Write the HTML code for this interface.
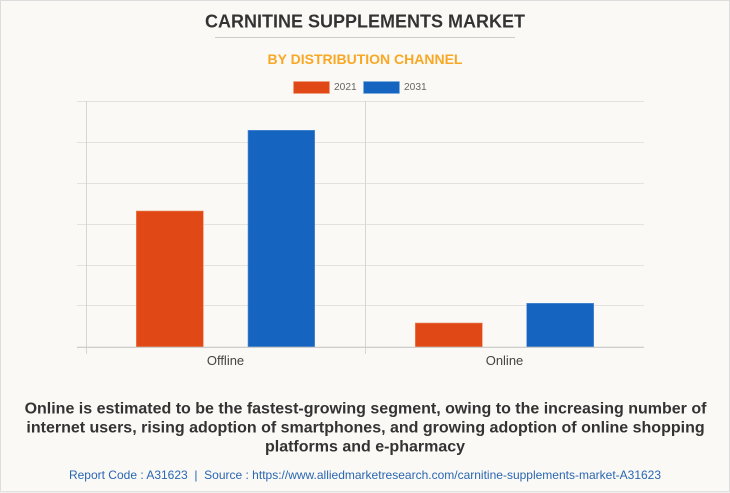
<!DOCTYPE html>
<html><head><meta charset="utf-8"><style>
html,body{margin:0;padding:0;background:#faf9f5;}
svg{display:block;}
text{font-family:"Liberation Sans",Arial,sans-serif;}
</style></head><body>
<svg width="730" height="493" viewBox="0 0 730 493" xmlns="http://www.w3.org/2000/svg">
<rect x="0.5" y="0.5" width="729" height="491" fill="#faf9f5" stroke="#dddddd"/>
<line x1="0" y1="492" x2="730" y2="492" stroke="#e6e6e6"/>
<text x="365" y="27.3" text-anchor="middle" font-size="18" font-weight="bold" fill="#333">CARNITINE SUPPLEMENTS MARKET</text>
<line x1="215" y1="37.5" x2="515" y2="37.5" stroke="#cccccc" stroke-width="1"/>
<text x="365" y="64" text-anchor="middle" font-size="14" font-weight="bold" fill="#f9a825">BY DISTRIBUTION CHANNEL</text>
<rect x="293.5" y="81.5" width="36" height="12" fill="#e04816" stroke="#f0a080" stroke-width="0.6"/>
<text x="334" y="90.2" font-size="10.2" fill="#666">2021</text>
<rect x="363.5" y="81.5" width="36" height="12" fill="#1565c0" stroke="#80b0e0" stroke-width="0.6"/>
<text x="404" y="90.2" font-size="10.2" fill="#666">2031</text>
<g stroke="#e2e2e0" stroke-width="1">
<line x1="77" y1="101.5" x2="644" y2="101.5"/>
<line x1="77" y1="142.5" x2="644" y2="142.5"/>
<line x1="77" y1="183.5" x2="644" y2="183.5"/>
<line x1="77" y1="224.5" x2="644" y2="224.5"/>
<line x1="77" y1="265.5" x2="644" y2="265.5"/>
<line x1="77" y1="305.5" x2="644" y2="305.5"/>
</g>
<line x1="86.5" y1="101" x2="86.5" y2="354" stroke="#d6d6d4"/>
<line x1="365.5" y1="101" x2="365.5" y2="354" stroke="#d6d6d4"/>
<rect x="136.3" y="211" width="67" height="136" fill="#e04816" stroke="#f08a60" stroke-width="0.6"/>
<rect x="248" y="130.3" width="66.7" height="216.7" fill="#1565c0" stroke="#5a95d8" stroke-width="0.6"/>
<rect x="415.3" y="323" width="67" height="24" fill="#e04816" stroke="#f08a60" stroke-width="0.6"/>
<rect x="526.7" y="303.3" width="67" height="43.7" fill="#1565c0" stroke="#5a95d8" stroke-width="0.6"/>
<line x1="77" y1="347.3" x2="644" y2="347.3" stroke="#c8c8c6" stroke-width="1.2"/>
<text x="225.5" y="365" text-anchor="middle" font-size="13" fill="#444">Offline</text>
<text x="504.5" y="365" text-anchor="middle" font-size="13" fill="#444">Online</text>
<g font-size="16" font-weight="bold" fill="#333" text-anchor="middle">
<text x="365.5" y="413.3">Online is estimated to be the fastest-growing segment, owing to the increasing number of</text>
<text x="365.5" y="432.3">internet users, rising adoption of smartphones, and growing adoption of online shopping</text>
<text x="365" y="451.3">platforms and e-pharmacy</text>
</g>
<text x="365" y="479" text-anchor="middle" font-size="12" fill="#2a66b3" xml:space="preserve">Report Code : A31623  |  Source : https://www.alliedmarketresearch.com/carnitine-supplements-market-A31623</text>
</svg>
</body></html>
